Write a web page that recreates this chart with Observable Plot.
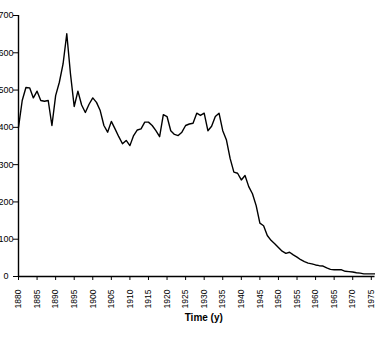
<!DOCTYPE html>
<html>
<head>
<meta charset="utf-8">
<script src="https://cdn.jsdelivr.net/npm/d3@7"></script>
<script src="https://cdn.jsdelivr.net/npm/@observablehq/plot@0.6"></script>
<style>
  html, body { margin: 0; padding: 0; background: #fff; }
  #chart svg { display: block; }
</style>
</head>
<body>
<div id="chart"></div>
<script>
const years = [
  1880,1881,1882,1883,1884,1885,1886,1887,1888,1889,
  1890,1891,1892,1893,1894,1895,1896,1897,1898,1899,
  1900,1901,1902,1903,1904,1905,1906,1907,1908,1909,
  1910,1911,1912,1913,1914,1915,1916,1917,1918,1919,
  1920,1921,1922,1923,1924,1925,1926,1927,1928,1929,
  1930,1931,1932,1933,1934,1935,1936,1937,1938,1939,
  1940,1941,1942,1943,1944,1945,1946,1947,1948,1949,
  1950,1951,1952,1953,1954,1955,1956,1957,1958,1959,
  1960,1961,1962,1963,1964,1965,1966,1967,1968,1969,
  1970,1971,1972,1973,1974,1975,1976
];
const values = [
  400,472,507,506,479,497,472,470,472,405,
  485,521,570,651,543,456,497,460,440,462,
  479,467,445,405,387,416,396,375,356,365,
  351,378,393,396,414,414,405,391,375,434,
  429,391,381,378,387,405,409,411,438,432,
  438,391,403,429,438,391,366,316,280,277,
  259,271,241,222,190,143,136,110,97,88,
  78,68,62,65,58,52,45,40,36,34,
  31,29,28,23,19,18,18,18,14,13,
  12,10,9,7,7,7,7
];
const xTicks = [1880,1885,1890,1895,1900,1905,1910,1915,1920,1925,1930,1935,1940,1945,1950,1955,1960,1965,1970,1975];
const yTicks = [0,100,200,300,400,500,600,700];
const xLabel = "Time (y)";

const data = years.map((y, i) => ({year: y, value: values[i]}));

const chart = Plot.plot({
  width: 375,
  height: 337,
  marginLeft: 18,
  marginRight: 0.5,
  marginTop: 15,
  marginBottom: 61,
  style: {fontFamily: "'Liberation Sans', Arial, sans-serif", background: "#fff", color: "#000"},
  x: {domain: [1880, 1976]},
  y: {domain: [0, 700]},
  marks: [
    Plot.axisX({ticks: xTicks, tickFormat: d => String(d), tickRotate: -90, tickSize: 4, tickPadding: 9, fontSize: 8.5, label: null, stroke: "#000"}),
    Plot.axisY({ticks: yTicks, tickFormat: d => String(d), tickSize: 5, tickPadding: 7.5, textAnchor: "middle", fontSize: 9, label: null, stroke: "#000"}),
    Plot.ruleX([1880], {stroke: "#000", strokeWidth: 1.4}),
    Plot.ruleY([0], {stroke: "#000", strokeWidth: 1.4}),
    Plot.lineY(data, {x: "year", y: "value", stroke: "#000", strokeWidth: 1.4}),
    Plot.text([xLabel], {frameAnchor: "bottom", dy: 44, dx: 7, fontSize: 10, fontWeight: "bold", fill: "#000"})
  ]
});
document.getElementById("chart").appendChild(chart);
</script>
</body>
</html>
